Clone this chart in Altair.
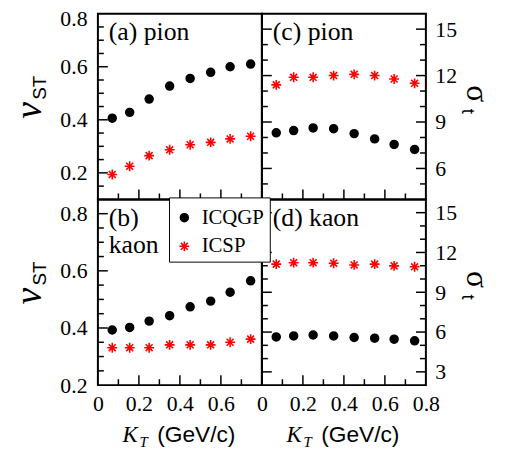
import altair as alt
import pandas as pd

# ---------------- data ----------------
kt = [0.07, 0.155, 0.25, 0.35, 0.45, 0.55, 0.645, 0.745]
series_names = ["ICQGP", "ICSP"]

pion_nu_icqgp = [0.406, 0.428, 0.478, 0.527, 0.556, 0.579, 0.600, 0.610]
pion_nu_icsp = [0.194, 0.225, 0.265, 0.287, 0.306, 0.315, 0.328, 0.338]
kaon_nu_icqgp = [0.393, 0.402, 0.424, 0.443, 0.474, 0.494, 0.525, 0.565]
kaon_nu_icsp = [0.331, 0.331, 0.331, 0.341, 0.341, 0.341, 0.350, 0.361]
pion_sig_icqgp = [8.30, 8.45, 8.62, 8.57, 8.25, 7.91, 7.55, 7.23]
pion_sig_icsp = [11.40, 11.89, 11.89, 12.00, 12.08, 12.00, 11.78, 11.50]
kaon_sig_icqgp = [5.63, 5.71, 5.78, 5.71, 5.59, 5.54, 5.46, 5.34]
kaon_sig_icsp = [11.12, 11.23, 11.23, 11.19, 11.06, 11.12, 10.99, 10.92]

# axis ranges, labels and tick marks
x_domain = [0.0, 0.8]
x_labels_left = [0.0, 0.2, 0.4, 0.6]
x_labels_right = [0.0, 0.2, 0.4, 0.6, 0.8]
x_minor = [0.1, 0.3, 0.5, 0.7]
x_major = [0.2, 0.4, 0.6]

nu_top_domain = [0.1, 0.8]
nu_bot_domain = [0.2, 0.85]
nu_labels = [0.2, 0.4, 0.6, 0.8]
nu_top_minor = [0.15, 0.25, 0.3, 0.35, 0.45, 0.5, 0.55, 0.65, 0.7, 0.75]
nu_top_major = [0.2, 0.4, 0.6]
nu_bot_minor = [0.25, 0.3, 0.35, 0.45, 0.5, 0.55, 0.65, 0.7, 0.75]
nu_bot_major = [0.4, 0.6, 0.8]

sig_top_domain = [4, 16]
sig_bot_domain = [2, 16]
sig_top_labels = [6, 9, 12, 15]
sig_bot_labels = [3, 6, 9, 12, 15]
sig_top_minor = [5, 7, 8, 10, 11, 13, 14]
sig_top_major = [6, 9, 12, 15]
sig_bot_minor = [4, 5, 7, 8, 10, 11, 13, 14]
sig_bot_major = [3, 6, 9, 12, 15]

# ---------------- styling ----------------
W, H = 166, 188
SERIF = "Liberation Serif"
SANS = "Liberation Sans"
STAR = "M-1,0H1M0,-1V1M-0.7,-0.7L0.7,0.7M-0.7,0.7L0.7,-0.7"
MINOR, MAJOR = 6, 10

LEG = alt.Legend(
    orient="none", legendX=72, legendY=186, title=" ",
    titleFontSize=4, titlePadding=1,
    strokeColor="black", fillColor="white", padding=5,
    labelFont=SERIF, labelFontSize=21, labelOffset=7, rowPadding=7,
    symbolStrokeWidth=1.6,
)


def make_df(a, b):
    return pd.DataFrame({
        "kt": kt + kt,
        "val": a + b,
        "series": [series_names[0]] * len(kt) + [series_names[1]] * len(kt),
    })


def txt(text, x, y, size, font, style="normal", angle=0, align="center", baseline="middle"):
    return alt.Chart(alt.Data(values=[{"t": text}])).mark_text(
        text=text, font=font, fontSize=size, fontStyle=style, angle=angle,
        align=align, baseline=baseline, color="black"
    ).encode(x=alt.value(x), y=alt.value(y))


def panel(a, b, ydom, ylabels, yfmt, right, yminor, ymajor, xlabels, label_lines, bottom, top_left=False):
    xscale = alt.Scale(domain=x_domain, nice=False, zero=False)
    yscale = alt.Scale(domain=ydom, nice=False, zero=False)
    if bottom:
        xaxis = alt.Axis(values=xlabels, ticks=False, domain=False, grid=False, title=None,
                         labelExpr="datum.value == 0 ? '0' : format(datum.value, '.1f')",
                         labelPadding=9, labelFlush=False, labelOverlap=False,
                         labelFont=SERIF, labelFontSize=22, labelColor="black")
    else:
        xaxis = None
    yaxis_kw = dict(values=ylabels, format=yfmt, orient="right" if right else "left",
                    ticks=False, domain=False, grid=False, title=None,
                    labelPadding=9 if right else 11, labelFlush=False, labelOverlap=False,
                    labelFont=SERIF, labelFontSize=22, labelColor="black")
    if top_left:
        yaxis_kw["labelOffset"] = {"condition": {"test": "datum.value == 0.8", "value": 5}, "value": 0}
    yaxis = alt.Axis(**yaxis_kw)

    pts = alt.Chart(make_df(a, b)).mark_point(opacity=1, strokeWidth=1.6).encode(
        x=alt.X("kt:Q", scale=xscale, axis=xaxis),
        y=alt.Y("val:Q", scale=yscale, axis=yaxis),
        shape=alt.Shape("series:N", scale=alt.Scale(domain=series_names, range=["circle", STAR]), legend=LEG),
        fill=alt.Fill("series:N", scale=alt.Scale(domain=series_names, range=["black", "transparent"]), legend=LEG),
        stroke=alt.Stroke("series:N", scale=alt.Scale(domain=series_names, range=["black", "red"]), legend=LEG),
        size=alt.Size("series:N", scale=alt.Scale(domain=series_names, range=[64, 100]), legend=LEG),
    )

    layers = []
    sides = [0, W] if right else [0]
    for vals, ln in ((yminor, MINOR), (ymajor, MAJOR)):
        for s in sides:
            x2 = s + ln if s == 0 else s - ln
            layers.append(
                alt.Chart(pd.DataFrame({"val": vals})).mark_rule(color="black", strokeWidth=1.5).encode(
                    y=alt.Y("val:Q", scale=yscale, axis=yaxis),
                    x=alt.value(s), x2=alt.value(x2),
                )
            )
    for vals, ln in ((x_minor, MINOR), (x_major, MAJOR)):
        layers.append(
            alt.Chart(pd.DataFrame({"kt": vals})).mark_rule(color="black", strokeWidth=1.5).encode(
                x=alt.X("kt:Q", scale=xscale, axis=xaxis),
                y=alt.value(H), y2=alt.value(H - ln),
            )
        )
    # panel label
    for i, line in enumerate(label_lines):
        layers.append(txt(line, 11, 27 + 27 * i, 26, SERIF, align="left", baseline="alphabetic"))
    # axis titles drawn as text with sub-scripts
    if right:
        layers.append(txt("σ", 218, 81, 32, SERIF, angle=90))
        layers.append(txt("t", 209, 99, 19, SANS, angle=90))
    else:
        layers.append(txt("ν", -69, 98, 38, SERIF, style="italic", angle=270))
        layers.append(txt("ST", -59, 75, 19, SANS, angle=270))
    if bottom:
        layers.append(txt("K", 25, 246, 23, SERIF, style="italic", align="left", baseline="alphabetic"))
        layers.append(txt("T", 42, 251, 15, SERIF, style="italic", align="left", baseline="alphabetic"))
        layers.append(txt("(GeV/c)", 60, 246, 23, SANS, align="left", baseline="alphabetic"))

    return alt.layer(pts, *layers).properties(
        width=W, height=H,
        view=alt.ViewBackground(stroke="black", strokeWidth=2),
    )


pa = panel(pion_nu_icqgp, pion_nu_icsp, nu_top_domain, nu_labels, ".1f", False,
           nu_top_minor, nu_top_major, None, ["(a) pion"], False, top_left=True)
pc = panel(pion_sig_icqgp, pion_sig_icsp, sig_top_domain, sig_top_labels, "d", True,
           sig_top_minor, sig_top_major, None, ["(c) pion"], False)
pb = panel(kaon_nu_icqgp, kaon_nu_icsp, nu_bot_domain, nu_labels, ".1f", False,
           nu_bot_minor, nu_bot_major, x_labels_left, ["(b)", "kaon"], True)
pd_ = panel(kaon_sig_icqgp, kaon_sig_icsp, sig_bot_domain, sig_bot_labels, "d", True,
            sig_bot_minor, sig_bot_major, x_labels_right, ["(d) kaon"], True)

chart = alt.concat(pa, pc, pb, pd_, columns=2, spacing=0, bounds="flush").resolve_scale(
    x="independent", y="independent"
).properties(
    padding={"left": 2, "top": -4, "right": 5, "bottom": 2}
).configure(background="white")

chart.save("out.html", embed_options={"renderer": "svg", "actions": False})
